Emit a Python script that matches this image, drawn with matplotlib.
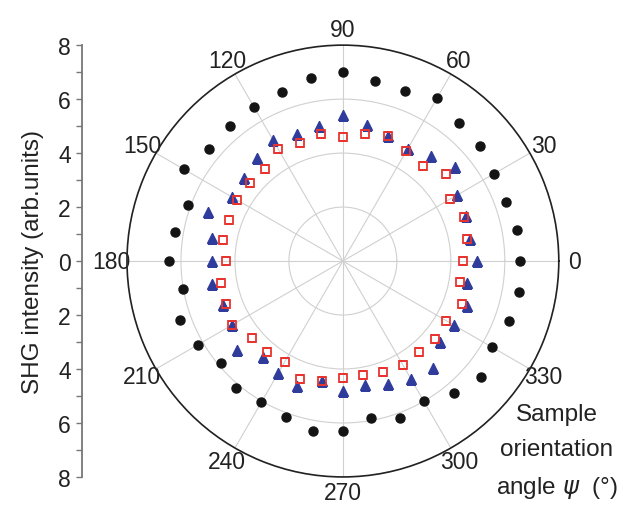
import numpy as np
import matplotlib
matplotlib.use('Agg')
import matplotlib.pyplot as plt

# angulos de la muestra, cada 10 grados
angulos = list(range(0, 360, 10))

# circulos negros
negros = [6.56, 6.55, 6.42, 6.46, 6.65, 6.67, 6.97, 6.7, 6.78,
          7.0, 6.88, 6.65, 6.57, 6.52, 6.46, 6.8, 6.1, 6.3,
          6.44, 6.02, 6.43, 6.22, 5.88, 6.15, 6.05, 6.14, 6.4,
          6.3, 5.9, 6.2, 6.0, 6.4, 6.7, 6.37, 6.54, 6.62]

# triangulos azules
azules = [4.96, 4.78, 4.85, 4.9, 5.44, 5.07, 4.8, 4.93, 5.12,
          5.4, 5.07, 5.0, 5.16, 4.97, 4.78, 4.73, 5.33, 4.93,
          4.85, 4.92, 4.73, 4.76, 5.1, 4.63, 4.78, 4.92, 4.5,
          4.8, 4.66, 4.86, 5.03, 5.17, 4.68, 4.75, 4.88, 4.66]

# cuadrados rojos
rojos = [4.44, 4.66, 4.77, 4.6, 5.0, 4.62, 4.7, 4.93, 4.78,
         4.6, 4.77, 4.67, 4.78, 4.47, 4.49, 4.53, 4.49, 4.51,
         4.33, 4.59, 4.62, 4.76, 4.41, 4.39, 4.31, 4.64, 4.5,
         4.35, 4.29, 4.37, 4.45, 4.39, 4.47, 4.41, 4.69, 4.4]

ticks_izq = [-8, -6, -4, -2, 0, 2, 4, 6, 8]
ticks_ang = list(range(0, 360, 30))

fig = plt.figure(figsize=(6.24, 5.1), dpi=100)
plt.rcParams['font.family'] = ['Liberation Sans', 'DejaVu Sans']

ax = fig.add_axes([0.2035, 0.0627, 0.692, 0.847], projection='polar')
th = np.deg2rad(angulos)
ax.plot(th, negros, 'o', color='#141414', ms=6.5, zorder=3)
ax.plot(th, azules, '^', color='#2f3c9c', ms=7.5, zorder=4)
ax.plot(th, rojos, 's', mfc='none', mec='#e8342e', mew=1.3, ms=6, zorder=5)

ax.set_ylim(0, 8)
ax.set_yticks([2, 4, 6, 8])
ax.set_yticklabels([])
ax.set_thetagrids(ticks_ang, labels=[str(a) for a in ticks_ang], fontsize=16.5, color='#222222')
ax.tick_params(axis='x', pad=1)
ax.grid(True, color='#d0d0d0', lw=0.8)
ax.spines['polar'].set_color('#222222')
ax.spines['polar'].set_linewidth(1.2)

# eje lineal a la izquierda
ax2 = fig.add_axes([0.131, 0.0627, 0.01, 0.847])
ax2.set_ylim(-8, 8)
ax2.set_yticks(ticks_izq)
ax2.set_yticklabels([str(abs(t)) for t in ticks_izq], fontsize=16.5, color='#222222')
ax2.set_yticks(range(-7, 8, 2), minor=True)
ax2.set_xticks([])
for s in ['top', 'right', 'bottom']:
    ax2.spines[s].set_visible(False)
ax2.spines['left'].set_color('#777777')
ax2.spines['left'].set_linewidth(1.3)
ax2.tick_params(axis='y', which='both', color='#777777', length=4, width=1, pad=4)
ax2.patch.set_visible(False)
ax2.set_ylabel('SHG intensity (arb.units)', fontsize=17.5, color='#222222', labelpad=10)

fig.text(0.892, 0.112, 'Sample\norientation\nangle $\\psi$  (°)', ha='center', va='center',
         fontsize=17.5, color='#222222', linespacing=1.75)

fig.savefig('out.png', dpi=100)
